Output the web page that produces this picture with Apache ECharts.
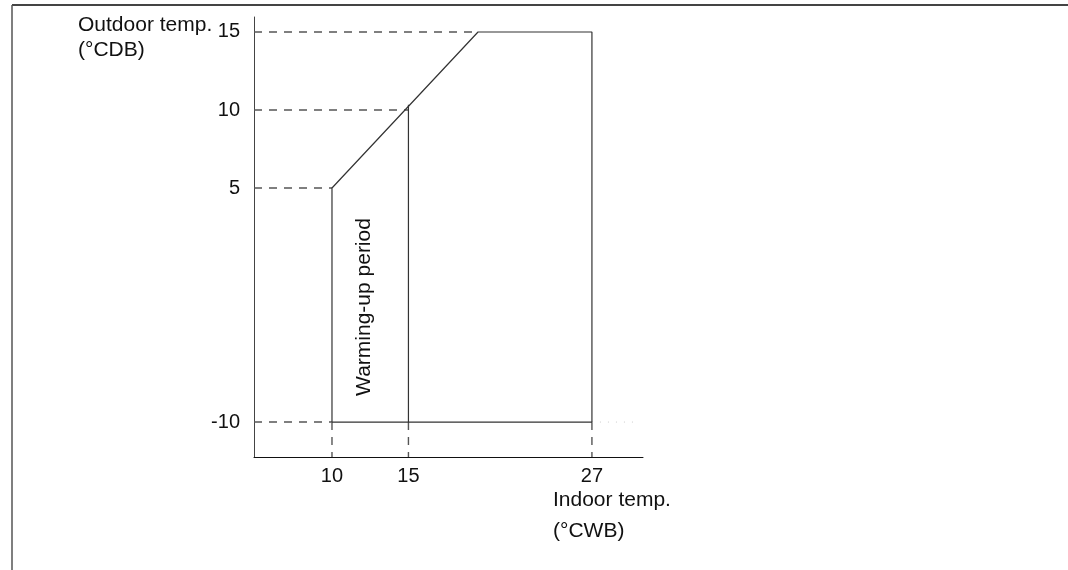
<!DOCTYPE html>
<html>
<head>
<meta charset="utf-8">
<script src="https://cdn.jsdelivr.net/npm/echarts@6/dist/echarts.min.js"></script>
<style>
html, body { margin: 0; padding: 0; background: #fff; }
#main { width: 1068px; height: 570px; }
</style>
</head>
<body>
<div id="main"></div>
<script>
// 刻度 (室内湿球温度 °CWB / 室外干球温度 °CDB)
var xTicks = [10, 15, 27];
var yTicks = [-10, 5, 10, 15];
// 运行范围边界
var outline = [[10, -10], [10, 5], [19.55, 15], [27, 15], [27, -10], [10, -10]];
// 预热区分界线
var divider = [[15, -10], [15, 10.34]];
// 虚线引线终点
var guideEnds = [[19.55, 15], [15, 10], [10, 5], [10, -10]];
var dotted = [[27, -10], [29.9, -10]];

var xMin = 4.9, xMax = 30.34, yMin = -12.24, yMax = 15.96;
var font = "'Liberation Sans', Arial, sans-serif";

var chart = echarts.init(document.getElementById('main'), null, { renderer: 'canvas' });

function seg(data, style) {
    return {
        type: 'line',
        data: data,
        symbol: 'none',
        silent: true,
        lineStyle: style
    };
}

var series = [];
var dash = { color: '#555', width: 1.4, type: [8, 7] };
for (var i = 0; i < guideEnds.length; i++) {
    series.push(seg([[xMin, guideEnds[i][1]], guideEnds[i]], dash));
}
for (var j = 0; j < xTicks.length; j++) {
    series.push(seg([[xTicks[j], -10], [xTicks[j], yMin]], dash));
}
series.push(seg(dotted, { color: '#ccc', width: 1, type: [1, 7] }));
series.push(seg(outline, { color: '#333', width: 1.2 }));
series.push(seg(divider, { color: '#333', width: 1.2 }));

option = {
    animation: false,
    backgroundColor: '#fff',
    grid: { left: 254, top: 17, width: 389, height: 440, containLabel: false },
    xAxis: {
        type: 'value',
        min: xMin,
        max: xMax,
        splitLine: { show: false },
        axisTick: { show: false },
        axisLine: { onZero: false, lineStyle: { color: '#111', width: 1 } },
        axisLabel: {
            customValues: xTicks,
            margin: 9,
            fontSize: 20,
            color: '#111',
            fontFamily: font
        }
    },
    yAxis: {
        type: 'value',
        min: yMin,
        max: yMax,
        splitLine: { show: false },
        axisTick: { show: false },
        axisLine: { onZero: false, lineStyle: { color: '#444', width: 1 } },
        axisLabel: {
            customValues: yTicks,
            margin: 14,
            fontSize: 20,
            color: '#111',
            fontFamily: font
        }
    },
    series: series,
    graphic: [
        { type: 'line', shape: { x1: 12, y1: 5, x2: 1068, y2: 5 }, style: { stroke: '#444', lineWidth: 2 } },
        { type: 'line', shape: { x1: 12, y1: 5, x2: 12, y2: 570 }, style: { stroke: '#555', lineWidth: 1.5 } },
        { type: 'text', left: 78, top: 13, style: { text: 'Outdoor temp.\n(°CDB)', font: '21px ' + font, fill: '#111', lineHeight: 25 } },
        { type: 'text', left: 553, top: 485, style: { text: 'Indoor temp.\n(°CWB)', font: '21px ' + font, fill: '#111', lineHeight: 31 } },
        {
            type: 'text', x: 364, y: 307, rotation: Math.PI / 2,
            style: { text: 'Warming-up period', font: '21px ' + font, fill: '#111', align: 'center', verticalAlign: 'middle' }
        }
    ]
};

chart.setOption(option);
</script>
</body>
</html>
